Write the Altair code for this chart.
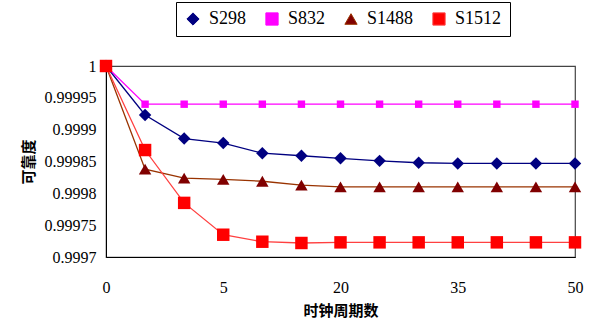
import altair as alt
import pandas as pd

cycles = [0, 1, 3, 5, 10, 15, 20, 25, 30, 35, 40, 45, 50]
series_names = ["S298", "S832", "S1488", "S1512"]
s298 = [1.0, 0.999923, 0.999886, 0.999879, 0.999863, 0.999859, 0.999855,
        0.999851, 0.999848, 0.999847, 0.999847, 0.999847, 0.999847]
s832 = [1.0, 0.99994, 0.99994, 0.99994, 0.99994, 0.99994, 0.99994,
        0.99994, 0.99994, 0.99994, 0.99994, 0.99994, 0.99994]
s1488 = [1.0, 0.999838, 0.999824, 0.999822, 0.999819, 0.999813, 0.99981,
         0.99981, 0.99981, 0.99981, 0.99981, 0.99981, 0.99981]
s1512 = [1.0, 0.999868, 0.999785, 0.999735, 0.999724, 0.999722, 0.999723,
         0.999723, 0.999723, 0.999723, 0.999723, 0.999723, 0.999723]
y_ticks = [0.9997, 0.99975, 0.9998, 0.99985, 0.9999, 0.99995, 1.0]
x_labels = [0, 5, 20, 35, 50]

line_colors = ["#000080", "#FF00FF", "#993300", "#FF4040"]
marker_colors = ["#000080", "#FF00FF", "#800000", "#FF0000"]
shapes = ["diamond", "square", "triangle-up", "square"]

rows = []
for name, vals in zip(series_names, [s298, s832, s1488, s1512]):
    for i, (c, v) in enumerate(zip(cycles, vals)):
        rows.append({"series": name, "idx": i, "cycle": c, "value": v})
df = pd.DataFrame(rows)

cjk = "Noto Sans CJK SC"
serif = "Liberation Serif"

x_enc = alt.X(
    "cycle:O",
    scale=alt.Scale(type="point", padding=0),
    axis=alt.Axis(values=x_labels, labelAngle=0, ticks=False, labelPadding=22,
                  title="时钟周期数", titlePadding=8),
)
y_enc = alt.Y(
    "value:Q",
    scale=alt.Scale(domain=[0.9997, 1.0], nice=False, zero=False),
    axis=alt.Axis(values=y_ticks, format=".5~f", ticks=False, grid=False,
                  labelPadding=10, title="可靠度", titlePadding=8),
)

legend = alt.Legend(title=None, orient="none", legendX=70, legendY=-64,
                    direction="horizontal", columns=4)

base = alt.Chart(df)
lines = base.mark_line(strokeWidth=1.3).encode(
    x=x_enc, y=y_enc,
    stroke=alt.Stroke("series:N", scale=alt.Scale(domain=series_names, range=line_colors),
                      legend=legend),
    detail="series:N",
)
points = base.mark_point(filled=True, opacity=1).encode(
    x=x_enc, y=y_enc,
    fill=alt.Fill("series:N", scale=alt.Scale(domain=series_names, range=marker_colors),
                  legend=legend),
    shape=alt.Shape("series:N", scale=alt.Scale(domain=series_names, range=shapes),
                    legend=legend),
    size=alt.condition(alt.datum.series == "S832", alt.value(55), alt.value(155)),
)

chart = alt.layer(lines, points).properties(
    width=469, height=191,
    autosize=alt.AutoSizeParams(type="none"),
    padding={"left": 106, "top": 66, "right": 15, "bottom": 76},
    background="white",
).configure_view(
    stroke="#444444", strokeWidth=1.2
).configure_axis(
    labelFont=serif, labelFontSize=16, labelColor="black", domainColor="black",
    titleFont=cjk, titleFontSize=15, titleFontWeight="bold", titleColor="black",
).configure_legend(
    labelFont=serif, labelFontSize=18, labelColor="black",
    strokeColor="black", fillColor="white", padding=8,
    symbolSize=150, symbolStrokeWidth=1, columnPadding=16, labelOffset=7,
)

chart.save("out.html", embed_options={"renderer": "svg", "actions": False})
